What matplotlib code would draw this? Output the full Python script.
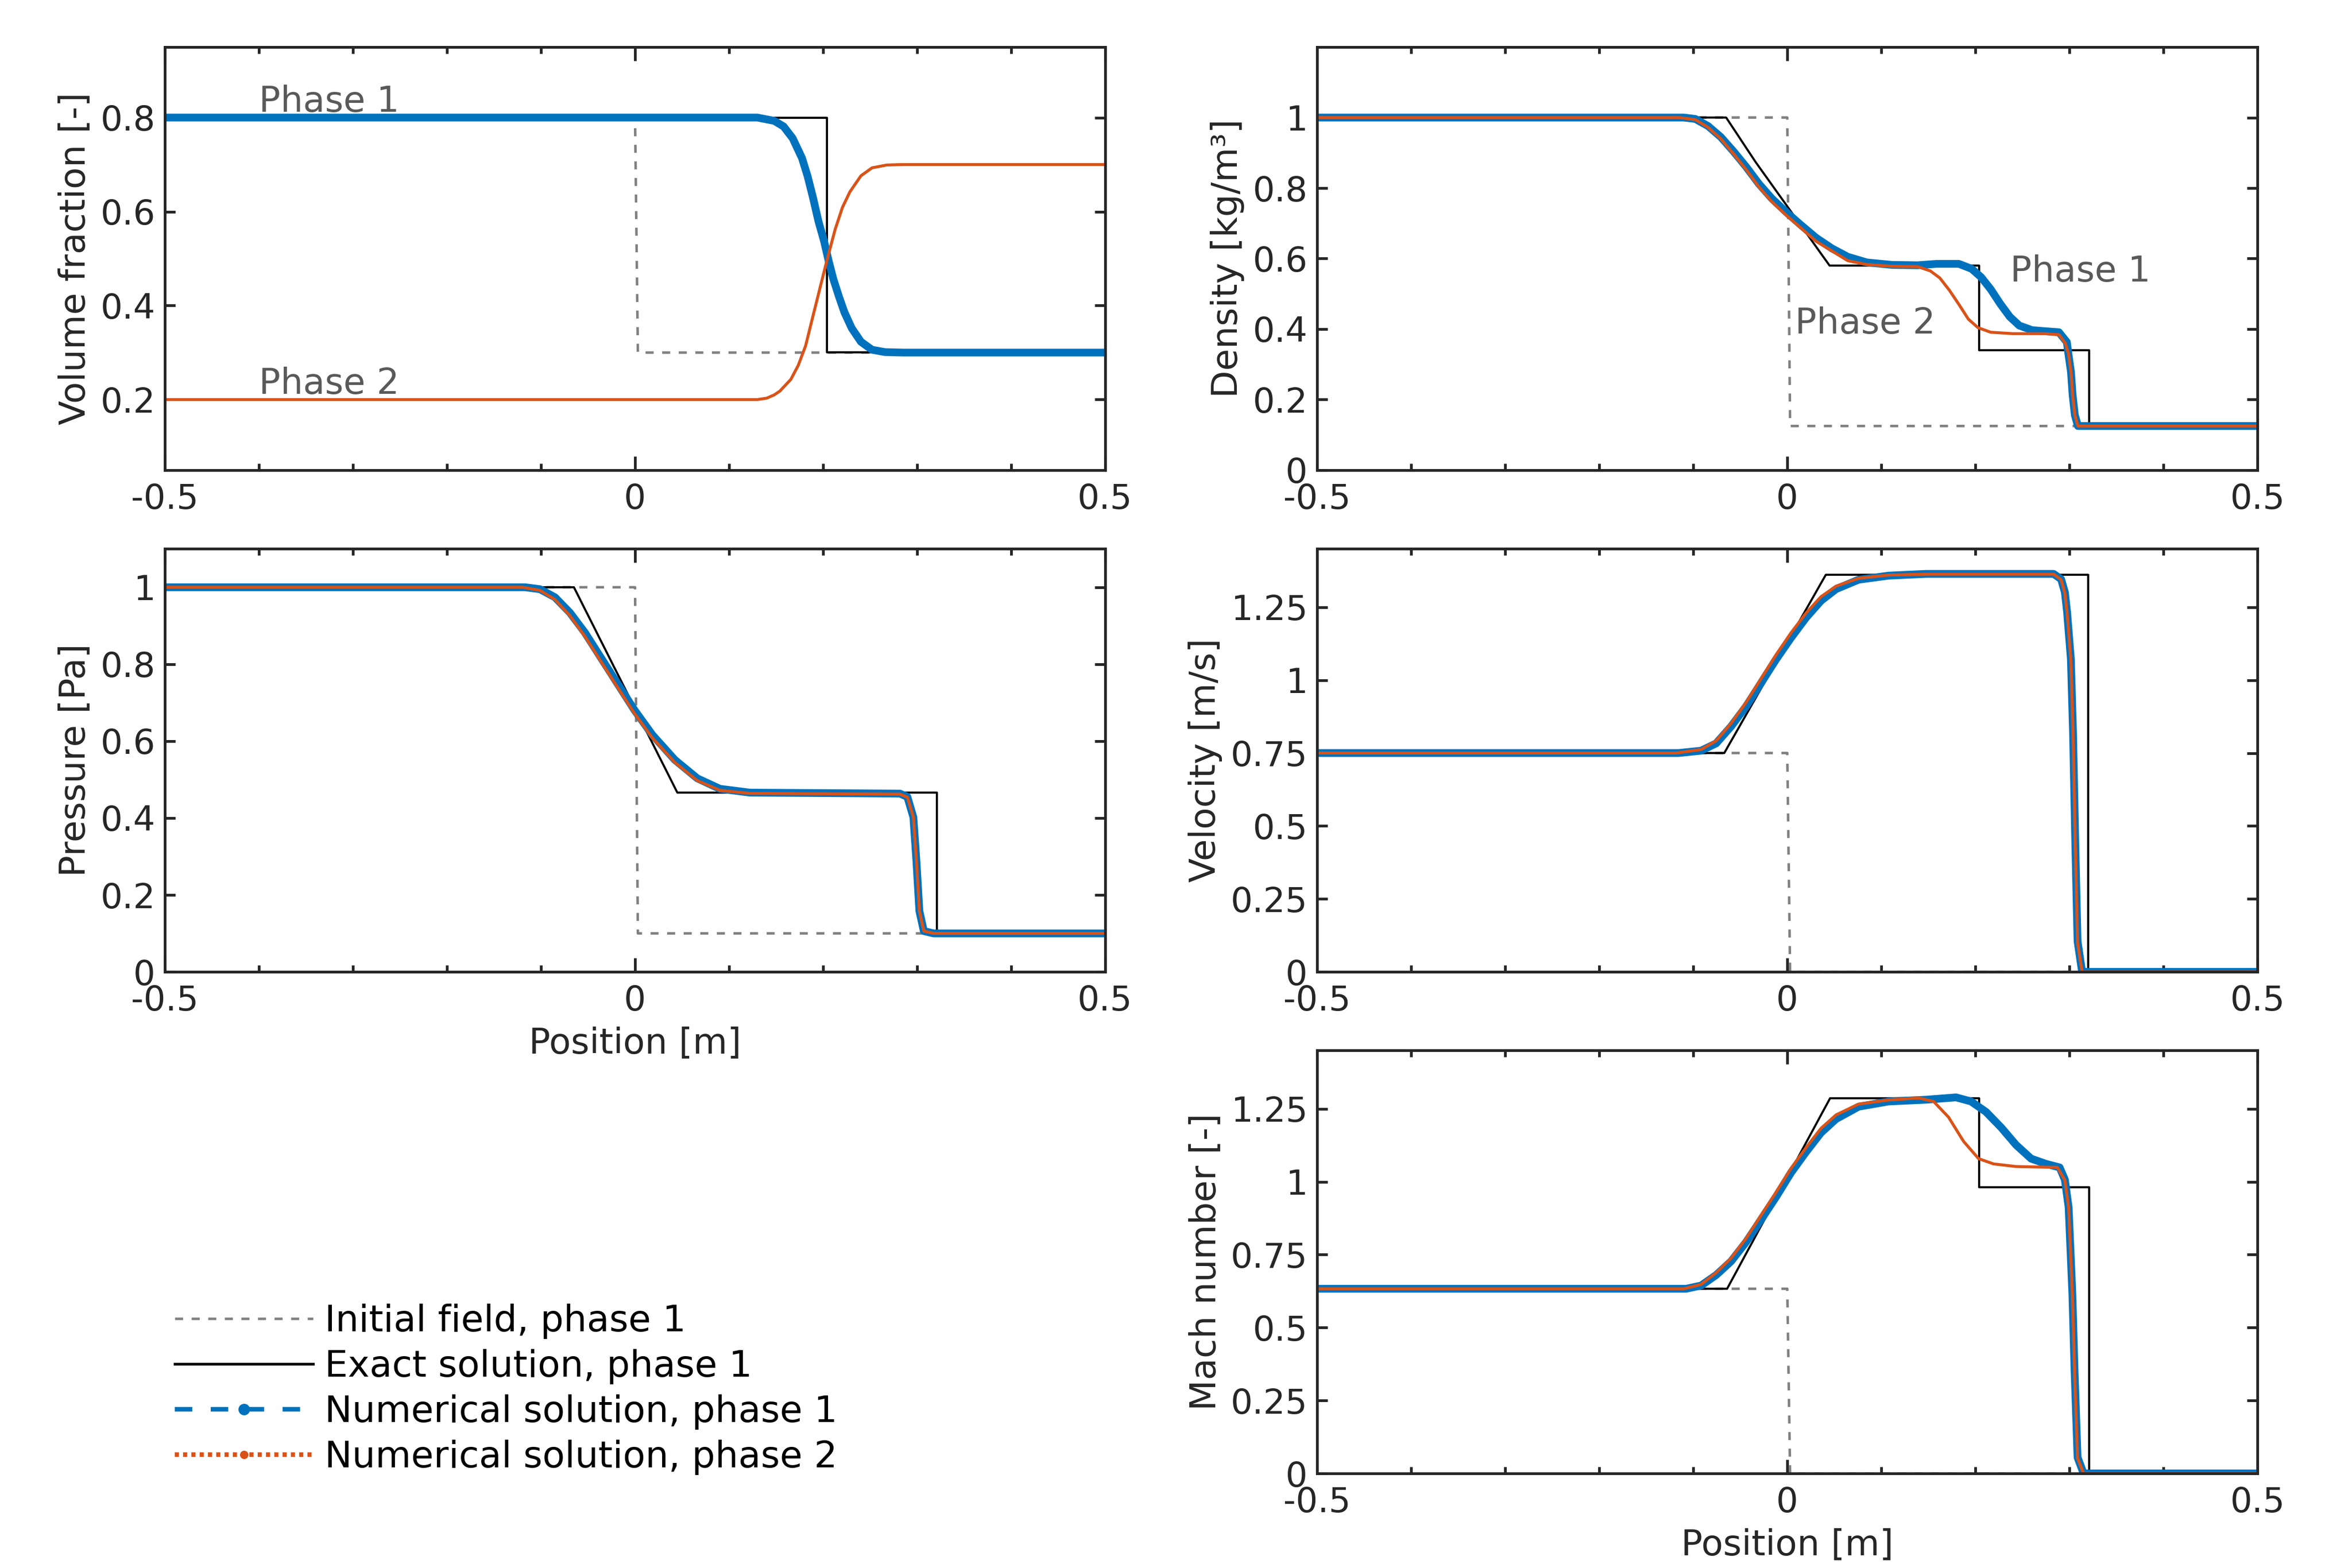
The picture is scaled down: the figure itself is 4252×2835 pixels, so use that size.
import matplotlib
matplotlib.use("Agg")
import matplotlib.pyplot as plt
from matplotlib.lines import Line2D
from matplotlib.ticker import MultipleLocator

# ---------------- data ----------------
# volume fraction
alpha_init_x = [-0.5, 0.0, 0.003, 0.5]
alpha_init_y = [0.8, 0.8, 0.3, 0.3]
alpha_exact_x = [-0.5, 0.204, 0.204, 0.5]
alpha_exact_y = [0.8, 0.8, 0.3, 0.3]
alpha1_x = [-0.5, 0.13, 0.148, 0.158, 0.1676, 0.1775, 0.1834, 0.1892, 0.1951, 0.201,
            0.2059, 0.2108, 0.2167, 0.2226, 0.2304, 0.2402, 0.252, 0.2657, 0.285, 0.5]
alpha1_y = [0.8, 0.8, 0.793, 0.781, 0.756, 0.714, 0.676, 0.630, 0.579, 0.537,
            0.495, 0.457, 0.420, 0.386, 0.352, 0.323, 0.306, 0.301, 0.3, 0.3]
alpha2_x = [-0.5, 0.13, 0.14, 0.148, 0.154, 0.1657, 0.1735, 0.1814, 0.1892, 0.197,
            0.205, 0.2128, 0.2206, 0.2285, 0.2402, 0.252, 0.2676, 0.285, 0.5]
alpha2_y = [0.2, 0.2, 0.203, 0.21, 0.218, 0.243, 0.2725, 0.3145, 0.3775, 0.440,
            0.5035, 0.562, 0.609, 0.642, 0.676, 0.693, 0.699, 0.7, 0.7]

# density
rho_init_x = [-0.5, 0.0, 0.003, 0.5]
rho_init_y = [1.0, 1.0, 0.125, 0.125]
rho_exact_x = [-0.5, -0.065, -0.034, 0.045, 0.204, 0.204, 0.321, 0.321, 0.5]
rho_exact_y = [1.0, 1.0, 0.875, 0.58, 0.58, 0.34, 0.34, 0.125, 0.125]
rho1_x = [-0.5, -0.11, -0.0978, -0.0843, -0.0708, -0.0572, -0.0437, -0.0302, -0.0167,
          -0.0008, 0.0137, 0.0306, 0.0474, 0.0643, 0.0846, 0.1116, 0.1386, 0.1589,
          0.1825, 0.196, 0.2062, 0.2163, 0.2264, 0.2366, 0.2467, 0.2602, 0.2737,
          0.2889, 0.2973, 0.299, 0.3017, 0.3034, 0.3058, 0.3091, 0.5]
rho1_y = [1.0, 1.0, 0.996, 0.976, 0.945, 0.904, 0.860, 0.812, 0.771,
          0.731, 0.697, 0.659, 0.629, 0.605, 0.589, 0.582, 0.581, 0.585,
          0.585, 0.571, 0.547, 0.513, 0.472, 0.435, 0.410, 0.397, 0.394,
          0.391, 0.363, 0.329, 0.278, 0.214, 0.156, 0.125, 0.125]
rho2_x = [-0.5, -0.115, -0.0978, -0.0843, -0.0708, -0.0572, -0.0437, -0.0302, -0.0167,
          -0.0008, 0.0306, 0.0643, 0.0846, 0.1116, 0.1386, 0.1521, 0.1622, 0.1724,
          0.1825, 0.1926, 0.2028, 0.2163, 0.24, 0.2737, 0.2889, 0.2956, 0.299,
          0.3017, 0.3034, 0.3058, 0.3091, 0.5]
rho2_y = [1.0, 1.0, 0.994, 0.972, 0.940, 0.897, 0.852, 0.803, 0.762,
          0.722, 0.649, 0.594, 0.583, 0.578, 0.577, 0.565, 0.545, 0.510,
          0.470, 0.428, 0.404, 0.391, 0.387, 0.387, 0.384, 0.360, 0.330,
          0.278, 0.214, 0.156, 0.125, 0.125]

# pressure
p_init_x = [-0.5, 0.0, 0.003, 0.5]
p_init_y = [1.0, 1.0, 0.1, 0.1]
p_exact_x = [-0.5, -0.065, 0.045, 0.321, 0.321, 0.5]
p_exact_y = [1.0, 1.0, 0.466, 0.466, 0.1, 0.1]
p1_x = [-0.5, -0.117, -0.1012, -0.0852, -0.0693, -0.0533, -0.0374, -0.0214, -0.0007,
        0.0185, 0.0424, 0.0663, 0.0902, 0.1221, 0.2817, 0.2896, 0.296, 0.2992,
        0.3024, 0.3071, 0.3175, 0.5]
p1_y = [1.0, 1.0, 0.995, 0.974, 0.934, 0.882, 0.821, 0.760, 0.681,
        0.616, 0.551, 0.503, 0.476, 0.466, 0.4635, 0.455, 0.402, 0.289,
        0.158, 0.106, 0.1, 0.1]
p2_x = [-0.5, -0.12, -0.1012, -0.0852, -0.0693, -0.0533, -0.0374, -0.0214, -0.0007,
        0.0185, 0.0424, 0.0663, 0.0902, 0.1221, 0.2817, 0.2896, 0.296, 0.2992,
        0.3024, 0.3071, 0.3175, 0.5]
p2_y = [1.0, 1.0, 0.992, 0.968, 0.926, 0.872, 0.811, 0.750, 0.672,
        0.608, 0.544, 0.497, 0.472, 0.464, 0.462, 0.454, 0.402, 0.289,
        0.158, 0.106, 0.1, 0.1]

# velocity
u_init_x = [-0.5, 0.0, 0.003, 0.5]
u_init_y = [0.75, 0.75, 0.0, 0.0]
u_exact_x = [-0.5, -0.067, 0.041, 0.320, 0.320, 0.5]
u_exact_y = [0.75, 0.75, 1.361, 1.361, 0.0, 0.0]
u1_x = [-0.5, -0.1156, -0.0917, -0.0757, -0.0598, -0.0438, -0.0279, -0.0119, 0.004,
        0.020, 0.0359, 0.0519, 0.0758, 0.1077, 0.1476, 0.2832, 0.2912, 0.2952,
        0.2976, 0.3016, 0.3039, 0.3063, 0.3087, 0.3135, 0.5]
u1_y = [0.75, 0.75, 0.758, 0.783, 0.841, 0.910, 0.990, 1.071, 1.145,
        1.214, 1.272, 1.312, 1.344, 1.358, 1.364, 1.364, 1.346, 1.301,
        1.232, 1.071, 0.818, 0.438, 0.105, 0.0, 0.0]
u2_x = [-0.5, -0.118, -0.0917, -0.0757, -0.0598, -0.0438, -0.0279, -0.0119, 0.004,
        0.020, 0.0359, 0.0519, 0.0758, 0.1077, 0.1476, 0.2832, 0.2912, 0.2952,
        0.2976, 0.3016, 0.3039, 0.3063, 0.3087, 0.3135, 0.5]
u2_y = [0.75, 0.75, 0.762, 0.792, 0.852, 0.924, 1.005, 1.087, 1.162,
        1.230, 1.286, 1.322, 1.349, 1.360, 1.363, 1.363, 1.344, 1.298,
        1.228, 1.066, 0.812, 0.432, 0.100, 0.0, 0.0]

# Mach number
m_init_x = [-0.5, 0.0, 0.003, 0.5]
m_init_y = [0.633, 0.633, 0.0, 0.0]
m_exact_x = [-0.5, -0.064, 0.0455, 0.204, 0.204, 0.321, 0.321, 0.5]
m_exact_y = [0.633, 0.633, 1.286, 1.286, 0.981, 0.981, 0.0, 0.0]
m1_x = [-0.5, -0.1076, -0.0917, -0.0757, -0.0598, -0.0438, -0.0279, -0.0119, 0.004,
        0.020, 0.0359, 0.0519, 0.0758, 0.1077, 0.1476, 0.1795, 0.1955, 0.2114,
        0.2274, 0.2433, 0.2593, 0.2752, 0.2896, 0.2952, 0.2992, 0.3032, 0.3055,
        0.3087, 0.3151, 0.5]
m1_y = [0.633, 0.633, 0.644, 0.680, 0.727, 0.793, 0.870, 0.948, 1.031,
        1.102, 1.168, 1.215, 1.257, 1.275, 1.281, 1.289, 1.275, 1.239,
        1.186, 1.126, 1.079, 1.061, 1.049, 1.007, 0.912, 0.614, 0.352,
        0.055, 0.0, 0.0]
m2_x = [-0.5, -0.11, -0.0917, -0.0757, -0.0598, -0.0438, -0.0279, -0.0119, 0.004,
        0.020, 0.0359, 0.0519, 0.0758, 0.1077, 0.1396, 0.1556, 0.1715, 0.1875,
        0.2034, 0.2193, 0.2433, 0.2872, 0.2952, 0.2992, 0.3032, 0.3055, 0.3087,
        0.3151, 0.5]
m2_y = [0.633, 0.633, 0.648, 0.688, 0.738, 0.806, 0.885, 0.964, 1.046,
        1.117, 1.183, 1.229, 1.266, 1.280, 1.287, 1.275, 1.221, 1.138,
        1.079, 1.061, 1.052, 1.049, 1.005, 0.910, 0.610, 0.348, 0.052,
        0.0, 0.0]

# ---------------- style ----------------
C_INIT = "#808080"
C_EXACT = "#000000"
C_NUM1 = "#0072BD"
C_NUM2 = "#D95319"
C_AX = "#262626"
C_NOTE = "#595959"

DPI = 272.5
fig = plt.figure(figsize=(4252 / DPI, 2835 / DPI), dpi=DPI)

col_x = [0.0701, 0.5600]
row_y = [0.7002, 0.3802, 0.0603]
ax_w, ax_h = 0.3998, 0.2698


def make_axis(col, row):
    return fig.add_axes([col_x[col], row_y[row], ax_w, ax_h])


def style_axis(ax, ylim, yticks, ylabels, ylabel):
    ax.set_xlim(-0.5, 0.5)
    ax.set_ylim(*ylim)
    ax.set_xticks([-0.5, 0, 0.5])
    ax.set_xticklabels(["-0.5", "0", "0.5"])
    ax.xaxis.set_minor_locator(MultipleLocator(0.1))
    ax.set_yticks(yticks)
    ax.set_yticklabels(ylabels)
    ax.tick_params(which="both", direction="in", top=True, right=True,
                   color=C_AX, width=1.3, labelsize=16.5, labelcolor=C_AX)
    ax.tick_params(axis="x", which="major", length=6.6, pad=6.0)
    ax.tick_params(axis="x", which="minor", length=3.3)
    ax.tick_params(axis="y", which="major", length=5.0, pad=4.5)
    for s in ax.spines.values():
        s.set_linewidth(1.3)
        s.set_color(C_AX)
    ax.set_ylabel(ylabel, fontsize=17, color=C_AX, labelpad=4)


def draw(ax, xi, yi, xe, ye, x1, y1, x2, y2):
    ax.plot(xi, yi, color=C_INIT, lw=1.2, ls=(0, (3.2, 3.4)))
    ax.plot(xe, ye, color=C_EXACT, lw=1.0)
    ax.plot(x1, y1, color=C_NUM1, lw=3.7, solid_capstyle="round", solid_joinstyle="round")
    ax.plot(x2, y2, color=C_NUM2, lw=1.4, solid_capstyle="round", solid_joinstyle="round")


# volume fraction
ax = make_axis(0, 0)
draw(ax, alpha_init_x, alpha_init_y, alpha_exact_x, alpha_exact_y,
     alpha1_x, alpha1_y, alpha2_x, alpha2_y)
style_axis(ax, (0.05, 0.95), [0.2, 0.4, 0.6, 0.8], ["0.2", "0.4", "0.6", "0.8"],
           "Volume fraction [-]")
ax.text(-0.40, 0.812, "Phase 1", fontsize=17, color=C_NOTE, va="baseline")
ax.text(-0.40, 0.212, "Phase 2", fontsize=17, color=C_NOTE, va="baseline")

# density
ax = make_axis(1, 0)
draw(ax, rho_init_x, rho_init_y, rho_exact_x, rho_exact_y, rho1_x, rho1_y, rho2_x, rho2_y)
style_axis(ax, (0, 1.2), [0, 0.2, 0.4, 0.6, 0.8, 1.0],
           ["0", "0.2", "0.4", "0.6", "0.8", "1"], "Density [kg/m³]")
ax.text(0.237, 0.535, "Phase 1", fontsize=17, color=C_NOTE, va="baseline")
ax.text(0.008, 0.387, "Phase 2", fontsize=17, color=C_NOTE, va="baseline")

# pressure
ax = make_axis(0, 1)
draw(ax, p_init_x, p_init_y, p_exact_x, p_exact_y, p1_x, p1_y, p2_x, p2_y)
style_axis(ax, (0, 1.1), [0, 0.2, 0.4, 0.6, 0.8, 1.0],
           ["0", "0.2", "0.4", "0.6", "0.8", "1"], "Pressure [Pa]")
ax.set_xlabel("Position [m]", fontsize=17, color=C_AX, labelpad=4)

# velocity
ax = make_axis(1, 1)
draw(ax, u_init_x, u_init_y, u_exact_x, u_exact_y, u1_x, u1_y, u2_x, u2_y)
style_axis(ax, (0, 1.45), [0, 0.25, 0.5, 0.75, 1.0, 1.25],
           ["0", "0.25", "0.5", "0.75", "1", "1.25"], "Velocity [m/s]")

# Mach number
ax = make_axis(1, 2)
draw(ax, m_init_x, m_init_y, m_exact_x, m_exact_y, m1_x, m1_y, m2_x, m2_y)
style_axis(ax, (0, 1.45), [0, 0.25, 0.5, 0.75, 1.0, 1.25],
           ["0", "0.25", "0.5", "0.75", "1", "1.25"], "Mach number [-]")
ax.set_xlabel("Position [m]", fontsize=17, color=C_AX, labelpad=4)

# legend in the empty bottom-left corner
handles = [
    Line2D([], [], color=C_INIT, lw=1.2, ls=(0, (3.2, 3.4))),
    Line2D([], [], color=C_EXACT, lw=1.3),
    Line2D([], [], color=C_NUM1, lw=2.2, ls=(0, (3.8, 4.0)), marker=".", markersize=9),
    Line2D([], [], color=C_NUM2, lw=2.2, ls=(0, (0.9, 0.9)), marker=".", markersize=6),
]
labels = ["Initial field, phase 1", "Exact solution, phase 1",
          "Numerical solution, phase 1", "Numerical solution, phase 2"]
fig.legend(handles, labels, loc="upper left", bbox_to_anchor=(0.0743, 0.1685),
           frameon=False, fontsize=17.5, handlelength=3.77, handletextpad=0.33,
           labelspacing=0.27, borderpad=0, borderaxespad=0)

fig.savefig("out.png", dpi=DPI)
